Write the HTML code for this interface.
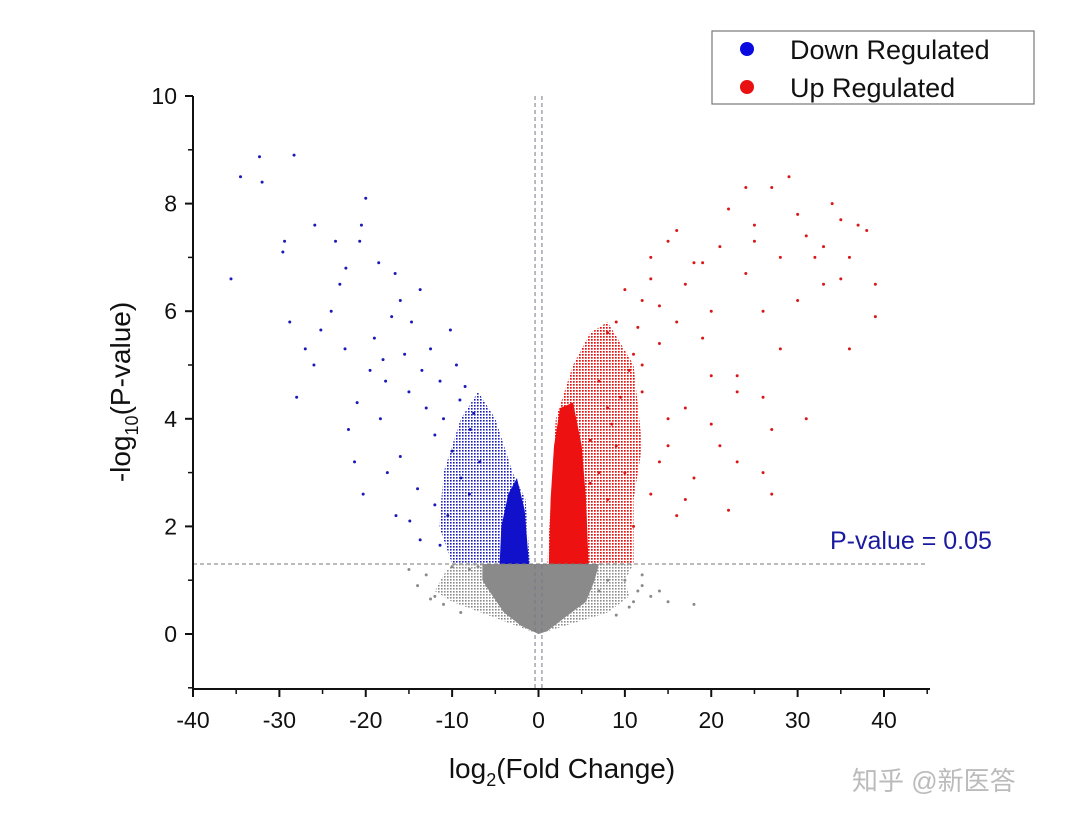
<!DOCTYPE html>
<html><head><meta charset="utf-8"><style>
html,body{margin:0;padding:0;background:#fff;}
svg{display:block;font-family:"Liberation Sans","Noto Sans CJK SC",sans-serif;}
</style></head><body>
<svg id="chart" width="1080" height="826" viewBox="0 0 1080 826">
<defs>
<pattern id="pr" width="3" height="3" patternUnits="userSpaceOnUse"><rect x="0" y="0" width="1.7" height="1.7" fill="#e41010"/></pattern>
<pattern id="pb" width="3" height="3" patternUnits="userSpaceOnUse"><rect x="0" y="0" width="1.6" height="1.6" fill="#1a1ab8"/></pattern>
<pattern id="pg" width="3" height="3" patternUnits="userSpaceOnUse"><rect x="0" y="0" width="1.6" height="1.6" fill="#8a8a8a"/></pattern>
</defs>
<g id="marks"></g>
<g id="axes"></g>
<rect x="712" y="31" width="322" height="73" fill="#fff" stroke="#777" stroke-width="1.2"/>
<circle cx="747" cy="49" r="7" fill="#0a0ae0"/>
<text x="790" y="59" font-size="27" fill="#111">Down Regulated</text>
<circle cx="747" cy="87" r="7" fill="#e81010"/>
<text x="790" y="97" font-size="27" fill="#111">Up Regulated</text>
<text x="830" y="549" font-size="25" fill="#1a1aa0">P-value = 0.05</text>
<text x="562" y="778" font-size="28" fill="#111" text-anchor="middle">log<tspan font-size="18" dy="8">2</tspan><tspan dy="-8">(Fold Change)</tspan></text>
<text transform="translate(130,392) rotate(-90)" font-size="28" fill="#111" text-anchor="middle">-log<tspan font-size="18" dy="8">10</tspan><tspan dy="-8">(P-value)</tspan></text>
<text x="852" y="790" font-size="26" fill="#bbb">知乎 @新医答</text>
</svg>
<script>
const xTicks=[-40,-30,-20,-10,0,10,20,30,40];
const yTicks=[0,2,4,6,8,10];
const threshold=1.3;
const grayCore=[[0,0],[-2,0.15],[-4,0.4],[-5.5,0.75],[-6.5,1.0],[-6.5,1.3],[7,1.3],[6.5,1.0],[5.5,0.6],[3,0.3],[1,0.05]];
const grayOuter=[[0,0],[-5,0.3],[-10,0.6],[-12,0.8],[-11,1.1],[-10,1.3],[11,1.3],[10,1.0],[10.5,0.7],[8,0.4],[4,0.2]];
const blueCore=[[-1.1,1.3],[-4.5,1.3],[-4.3,2.0],[-3.5,2.6],[-2.5,2.9],[-1.6,2.3]];
const blueMid=[[-1,1.3],[-10,1.3],[-11.5,2.0],[-11,3.0],[-9,4.0],[-7,4.5],[-5,4.0],[-3,3.0],[-1.5,2.5]];
const redCore=[[1.2,1.3],[5.8,1.3],[5.5,2.5],[5,3.5],[4,4.3],[2.5,4.2],[1.8,3.5],[1.4,2.5]];
const redMid=[[1,1.3],[11,1.3],[11,2.5],[12,3.5],[11,5.0],[8,5.8],[6,5.6],[4,5.0],[2,4.0]];
const blueX=[-34.5,-32.3,-28.3,-32,-29.6,-29.4,-35.6,-28,-25.9,-23.5,-22.3,-20,-20.5,-20.7,-28.8,-25.2,-22.4,-22,-21.3,-18.3,-17.7,-16.6,-16,-14.7,-13.7,-12.5,-11.4,-10.2,-9.1,-7.9,-6.8,-14.9,-13.7,-11.4,-18,-19,-17,-15,-13,-12,-10,-9,-8,-16,-14,-12,-10.5,-19.5,-21,-24,-26,-27,-23,-18.5,-15.5,-13.5,-11,-9.5,-8.5,-7.5,-16.5,-20.3,-17.5];
const blueY=[8.5,8.87,8.9,8.4,7.1,7.3,6.6,4.4,7.6,7.3,6.8,8.1,7.6,7.3,5.8,5.65,5.3,3.8,3.2,4.0,4.7,6.7,6.2,5.8,6.4,5.3,4.7,5.65,4.35,3.8,3.2,2.1,1.75,1.65,5.1,5.5,5.9,4.5,4.2,3.7,3.4,2.9,2.6,3.3,2.7,2.4,2.2,4.9,4.3,6.0,5.0,5.3,6.5,6.9,5.2,4.9,4.0,5.0,4.6,4.1,2.2,2.6,3.0];
const redX=[29,27,24,34,37,39,39,35,30,32,22,16,13,17,20,25,26,28,33,36,23,23,27,31,21,26,27,22,18,15,12,11,9,8,10,14,12,19,17,20,14,13,16,11,10,9,8,7,7,8,6,6,25,21,18,15,13,24,30,35,38,28,19,16,14,12,11.5,10.5,9.5,8.5,31,33,36,20,23,26,17,15];
const redY=[8.5,8.3,8.3,8.0,7.6,6.5,5.9,6.6,7.8,7.0,7.9,7.5,7.0,6.5,6.0,7.3,6.0,5.3,6.5,5.3,4.8,4.5,3.8,4.0,3.5,3.0,2.6,2.3,2.9,3.5,4.5,5.2,5.8,5.6,6.4,6.1,5.0,5.5,4.2,4.8,3.2,2.6,2.2,2.0,3.0,3.5,4.2,4.7,3.0,2.5,2.8,3.6,7.6,7.2,6.9,7.3,6.6,6.7,6.2,7.7,7.5,7.0,6.9,5.8,5.4,6.2,5.7,4.9,4.4,3.9,7.4,7.2,7.0,3.9,3.2,4.4,2.5,4.0];
const grayX=[-15,-13,-12,-14,-11,-9,-8,-10,12,13,11,15,18,9,10,12,14,-7,-6,8,7,10.5,-12.5,11.5];
const grayY=[1.2,1.1,0.7,0.9,0.55,0.4,1.2,1.25,0.9,0.7,0.6,0.6,0.55,0.35,1.0,1.1,0.8,1.25,0.9,1.0,0.8,0.5,0.65,0.8];
const X0=-40,X1=40,PX0=193,PX1=884,Y0=0,Y1=10,PY0=634,PY1=96;
const sx=v=>PX0+(v-X0)*(PX1-PX0)/(X1-X0);
const sy=v=>PY0+(v-Y0)*(PY1-PY0)/(Y1-Y0);
const NS='http://www.w3.org/2000/svg';
const marks=document.getElementById('marks');
const axes=document.getElementById('axes');
function mk(t,a,p){const e=document.createElementNS(NS,t);for(const k in a)e.setAttribute(k,a[k]);p.appendChild(e);return e;}
function poly(pts,fill,name){
  const e=mk('polygon',{points:pts.map(p=>sx(p[0])+','+sy(p[1])).join(' '),fill:fill},marks);
  
  
}
poly(grayOuter,'url(#pg)','gray-outer-region');
poly(grayCore,'#8a8a8a','gray-core-region');
poly(blueMid,'url(#pb)','blue-mid-region');
poly(blueCore,'#1111cc','blue-core-region');
poly(redMid,'url(#pr)','red-mid-region');
poly(redCore,'#ee1111','red-core-region');
function pts(xs,ys,col,name){
  for(let i=0;i<xs.length;i++){
    const c=mk('circle',{cx:sx(xs[i]),cy:sy(ys[i]),r:1.5,fill:col},marks);
    
    
  }
}
pts(grayX,grayY,'#8a8a8a','point-not-significant');
pts(blueX,blueY,'#1a1ab8','point-down');
pts(redX,redY,'#d81818','point-up');
const th=mk('line',{x1:PX0,x2:928,y1:sy(threshold),y2:sy(threshold),stroke:'#777','stroke-width':1,'stroke-dasharray':'4,3'},axes);


[-0.4,0.4].forEach(v=>{
  const l=mk('line',{x1:sx(v),x2:sx(v),y1:96,y2:689,stroke:'#778','stroke-width':1,'stroke-dasharray':'4,3'},axes);
  
  
});
const ya=mk('line',{x1:PX0,x2:PX0,y1:96,y2:689,stroke:'#111','stroke-width':2},axes);


const xa=mk('line',{x1:PX0,x2:930,y1:689,y2:689,stroke:'#111','stroke-width':2},axes);


xTicks.forEach(v=>{
  mk('line',{x1:sx(v),x2:sx(v),y1:689,y2:697,stroke:'#111','stroke-width':2},axes);
  mk('line',{x1:sx(v+5),x2:sx(v+5),y1:689,y2:694,stroke:'#111','stroke-width':1.5},axes);
  const t=mk('text',{x:sx(v),y:728,'font-size':23,'text-anchor':'middle',fill:'#111'},axes);
  t.textContent=v;
  
  
});
yTicks.forEach(v=>{
  mk('line',{x1:PX0-8,x2:PX0,y1:sy(v),y2:sy(v),stroke:'#111','stroke-width':2},axes);
  mk('line',{x1:PX0-5,x2:PX0,y1:sy(v-1),y2:sy(v-1),stroke:'#111','stroke-width':1.5},axes);
  const t=mk('text',{x:PX0-16,y:sy(v)+8,'font-size':23,'text-anchor':'end',fill:'#111'},axes);
  t.textContent=v;
  
  
});
</script>
</body></html>
